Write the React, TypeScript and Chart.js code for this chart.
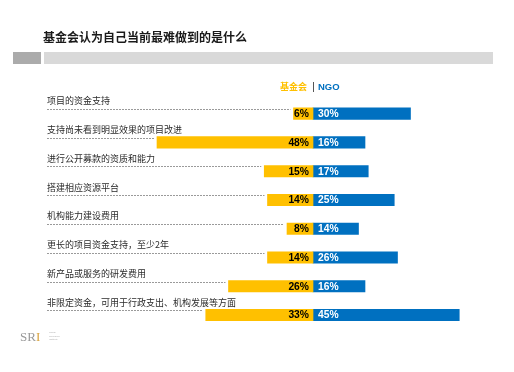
import React, { useEffect, useRef } from "react";
import { Chart, registerables } from "chart.js";

Chart.register(...registerables);

const titleText = "基金会认为自己当前最难做到的是什么";
const legendFoundation = "基金会";
const legendNgo = "NGO";

const categories = [
  "项目的资金支持",
  "支持尚未看到明显效果的项目改进",
  "进行公开募款的资质和能力",
  "搭建相应资源平台",
  "机构能力建设费用",
  "更长的项目资金支持，至少2年",
  "新产品或服务的研发费用",
  "非限定资金，可用于行政支出、机构发展等方面",
];

// share of respondents (%)
const foundationValues = [6, 48, 15, 14, 8, 14, 26, 33];
const ngoValues = [30, 16, 17, 25, 14, 26, 16, 45];

const ORANGE = "#FFC000";
const BLUE = "#0070C0";
const CJK = '"Noto Sans CJK SC", "Noto Sans", sans-serif';
const LATIN = '"Liberation Sans", Arial, sans-serif';

const decorPlugin = {
  id: "decor",
  beforeDraw(chart: any) {
    const ctx = chart.ctx;
    ctx.save();
    ctx.fillStyle = "#ffffff";
    ctx.fillRect(0, 0, chart.width, chart.height);

    // title
    ctx.fillStyle = "#1a1a1a";
    ctx.font = `bold 12px ${CJK}`;
    ctx.textBaseline = "middle";
    ctx.textAlign = "left";
    ctx.fillText(titleText, 43, 37);

    // header band
    ctx.fillStyle = "#ababab";
    ctx.fillRect(13, 52, 28, 12);
    ctx.fillStyle = "#d9d9d9";
    ctx.fillRect(44, 52, 449, 12);

    // legend
    const zeroX = chart.scales.x.getPixelForValue(0);
    ctx.font = `bold 9px ${CJK}`;
    ctx.fillStyle = ORANGE;
    ctx.textAlign = "right";
    ctx.fillText(legendFoundation, zeroX - 6, 87);
    ctx.fillStyle = "#555555";
    ctx.fillRect(zeroX, 82, 1, 10);
    ctx.font = `bold 9.5px ${LATIN}`;
    ctx.fillStyle = BLUE;
    ctx.textAlign = "left";
    ctx.fillText(legendNgo, zeroX + 5, 87);

    // logo
    ctx.font = `13px "Liberation Serif", "DejaVu Serif", serif`;
    ctx.fillStyle = "#9a9a9a";
    ctx.textAlign = "left";
    ctx.textBaseline = "alphabetic";
    ctx.fillText("SR", 20, 341);
    const srW = ctx.measureText("SR").width;
    ctx.fillStyle = "#d9a441";
    ctx.fillText("I", 20 + srW, 341);
    ctx.font = `2.5px ${LATIN}`;
    ctx.fillStyle = "#b0b0b0";
    ctx.fillText("Social", 49, 333);
    ctx.fillText("Research", 49, 336.5);
    ctx.fillText("Institute", 49, 340);
    ctx.restore();
  },
  afterDatasetsDraw(chart: any) {
    const ctx = chart.ctx;
    const xs = chart.scales.x;
    const zeroX = xs.getPixelForValue(0);
    const metaF = chart.getDatasetMeta(0);
    ctx.save();
    categories.forEach((label, i) => {
      const bar = metaF.data[i];
      const top = bar.y - bar.height / 2;
      const leftX = xs.getPixelForValue(-foundationValues[i]);

      // category label with dashed leader
      ctx.fillStyle = "#2a2a2a";
      ctx.font = `9px ${CJK}`;
      ctx.textAlign = "left";
      ctx.textBaseline = "middle";
      ctx.fillText(label, 47, top - 7);
      ctx.strokeStyle = "#9a9a9a";
      ctx.lineWidth = 1;
      ctx.setLineDash([2, 1]);
      ctx.beginPath();
      ctx.moveTo(47, Math.round(top) + 1.5);
      ctx.lineTo(leftX - 3, Math.round(top) + 1.5);
      ctx.stroke();
      ctx.setLineDash([]);

      // values
      ctx.font = `bold 10.3px ${LATIN}`;
      ctx.fillStyle = "#000000";
      ctx.textAlign = "right";
      ctx.fillText(`${foundationValues[i]}%`, zeroX - 4, bar.y + 0.5);
      ctx.fillStyle = "#ffffff";
      ctx.textAlign = "left";
      ctx.fillText(`${ngoValues[i]}%`, zeroX + 5, bar.y + 0.5);
    });
    ctx.restore();
  },
};

export default function App() {
  const ref = useRef<HTMLCanvasElement>(null);
  useEffect(() => {
    if (!ref.current) return;
    const chart = new Chart(ref.current, {
      type: "bar",
      data: {
        labels: categories,
        datasets: [
          {
            label: legendFoundation,
            data: foundationValues.map((v) => -v),
            backgroundColor: ORANGE,
            borderWidth: 0,
            barThickness: 11.5,
            stack: "s",
          },
          {
            label: legendNgo,
            data: ngoValues,
            backgroundColor: BLUE,
            borderWidth: 0,
            barThickness: 11.5,
            stack: "s",
          },
        ],
      },
      options: {
        indexAxis: "y",
        responsive: false,
        animation: false,
        layout: { padding: { left: 53, right: 22.25, top: 99.3, bottom: 42.6 } },
        plugins: { legend: { display: false }, tooltip: { enabled: false } },
        scales: {
          x: { type: "linear", min: -80, max: 55, display: false, stacked: true },
          y: { display: false, stacked: true },
        },
      },
      plugins: [decorPlugin],
    });
    return () => chart.destroy();
  }, []);
  return (
    <div style={{ position: "absolute", left: 0, top: 0, width: 514, height: 372 }}>
      <canvas ref={ref} width={514} height={372} style={{ width: 514, height: 372, display: "block" }} />
    </div>
  );
}
